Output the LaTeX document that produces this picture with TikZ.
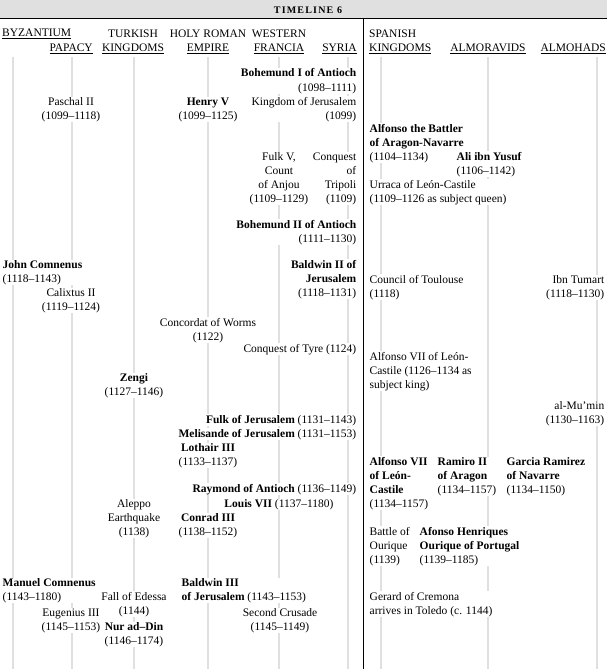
\documentclass[tikz,border=0pt]{standalone}
\usepackage{fontspec}
\setmainfont{Liberation Serif}
\begin{document}
\begin{tikzpicture}[x=1pt,y=-1pt,
  font=\fontsize{11.5}{14}\selectfont,
  lft/.style={anchor=base west,align=left,inner sep=0.5pt,fill=white},
  rgt/.style={anchor=base east,align=right,inner sep=0.5pt,fill=white},
  mid/.style={anchor=base,align=center,inner sep=0.5pt,fill=white},
  hdr/.style={inner sep=0pt},
  colline/.style={draw=black!12,line width=1.6pt}]
\useasboundingbox (0,0) rectangle (607,669);
% title bar
\fill[black!12] (0,0) rectangle (607,18);
\draw[line width=0.8pt] (0,18) -- (607,18);
\draw[line width=0.8pt] (363,18) -- (363,669);
\node (title) at (308,14) [anchor=base,inner sep=0pt,font=\fontsize{10}{12}\selectfont\bfseries\addfontfeatures{LetterSpace=12}] {TIMELINE 6};

% column lines
\foreach \x in {13,72,134,208,279,348,381,488,597}
  \draw[colline] (\x,57) -- (\x,669);

% column heads (base = last line)
\node (byz) at (2,37) [hdr,anchor=base west] {\underline{BYZANTIUM}};
\node (pap) at (93,52) [hdr,anchor=base east] {\underline{PAPACY}};
\node (tur) at (133,52) [hdr,anchor=base,align=center] {TURKISH\\\underline{KINGDOMS}};
\node (hre) at (208,52) [hdr,anchor=base,align=center] {HOLY ROMAN\\\underline{EMPIRE}};
\node (wfr) at (279,52) [hdr,anchor=base,align=center] {WESTERN\\\underline{FRANCIA}};
\node (syr) at (357,52) [hdr,anchor=base east] {\underline{SYRIA}};
\node (spa) at (369,52) [hdr,anchor=base west,align=left] {SPANISH\\\underline{KINGDOMS}};
\node (alv) at (488,52) [hdr,anchor=base] {\underline{ALMORAVIDS}};
\node (alh) at (606,52) [hdr,anchor=base east] {\underline{ALMOHADS}};

% left half
\node (bohI) at (357,91) [rgt] {\textbf{Bohemund I of Antioch}\\(1098--1111)};
\node (pasch) at (71,119) [mid] {Paschal II\\(1099--1118)};
\node (henV) at (208,119) [mid] {\textbf{Henry V}\\(1099--1125)};
\node (kjer) at (357,119) [rgt] {Kingdom of Jerusalem\\(1099)};
\node (fulkV) at (279,202) [mid] {Fulk V,\\Count\\of Anjou\\(1109--1129)};
\node (trip) at (357,202) [rgt] {Conquest\\of\\Tripoli\\(1109)};
\node (bohII) at (357,242) [rgt] {\textbf{Bohemund II of Antioch}\\(1111--1130)};
\node (john) at (2,282) [lft] {\textbf{John Comnenus}\\(1118--1143)};
\node (bldII) at (357,296) [rgt] {\textbf{Baldwin II of}\\\textbf{Jerusalem}\\(1118--1131)};
\node (calx) at (71,310) [mid] {Calixtus II\\(1119--1124)};
\node (worms) at (208,340) [mid] {Concordat of Worms\\(1122)};
\node (tyre) at (357,352) [rgt] {Conquest of Tyre (1124)};
\node (zengi) at (134,395) [mid] {\textbf{Zengi}\\(1127--1146)};
\node (fulk) at (357,423) [rgt] {\textbf{Fulk of Jerusalem} (1131--1143)};
\node (meli) at (357,437) [rgt] {\textbf{Melisande of Jerusalem} (1131--1153)};
\node (loth) at (208,465) [mid] {\textbf{Lothair III}\\(1133--1137)};
\node (raym) at (357,492) [rgt] {\textbf{Raymond of Antioch} (1136--1149)};
\node (louis) at (279,507) [mid] {\textbf{Louis VII} (1137--1180)};
\node (alep) at (134,535) [mid] {Aleppo\\Earthquake\\(1138)};
\node (conr) at (208,535) [mid] {\textbf{Conrad III}\\(1138--1152)};
\node (manu) at (2,600) [lft] {\textbf{Manuel Comnenus}\\(1143--1180)};
\node (edes) at (134,614) [mid] {Fall of Edessa\\(1144)};
\node (bldIII) at (181,600) [lft] {\textbf{Baldwin III}\\\textbf{of Jerusalem} (1143--1153)};
\node (eug) at (71,630) [mid] {Eugenius III\\(1145--1153)};
\node (nur) at (134,644) [mid] {\textbf{Nur ad--Din}\\(1146--1174)};
\node (cru2) at (280,630) [mid] {Second Crusade\\(1145--1149)};

% right half
\node (batt) at (369,160) [lft] {\textbf{Alfonso the Battler}\\\textbf{of Aragon-Navarre}\\(1104--1134)};
\node (ali) at (456,174) [lft] {\textbf{Ali ibn Yusuf}\\(1106--1142)};
\node (urr) at (369,202) [lft] {Urraca of León-Castile\\(1109--1126 as subject queen)};
\node (toul) at (369,297) [lft] {Council of Toulouse\\(1118)};
\node (tum) at (605,297) [rgt] {Ibn Tumart\\(1118--1130)};
\node (alfsub) at (369,388) [lft] {Alfonso VII of León-\\Castile (1126--1134 as\\subject king)};
\node (mumin) at (605,423) [rgt] {al-Mu’min\\(1130--1163)};
\node (alfVII) at (369,507) [lft] {\textbf{Alfonso VII}\\\textbf{of León-}\\\textbf{Castile}\\(1134--1157)};
\node (ramII) at (437,493) [lft] {\textbf{Ramiro II}\\\textbf{of Aragon}\\(1134--1157)};
\node (garc) at (506,493) [lft] {\textbf{Garcia Ramirez}\\\textbf{of Navarre}\\(1134--1150)};
\node (ouri) at (369,563) [lft] {Battle of\\Ourique\\(1139)};
\node (afon) at (419,563) [lft] {\textbf{Afonso Henriques}\\\textbf{Ourique of Portugal}\\(1139--1185)};
\node (gera) at (369,614) [lft] {Gerard of Cremona\\arrives in Toledo (c. 1144)};
\end{tikzpicture}
\end{document}
